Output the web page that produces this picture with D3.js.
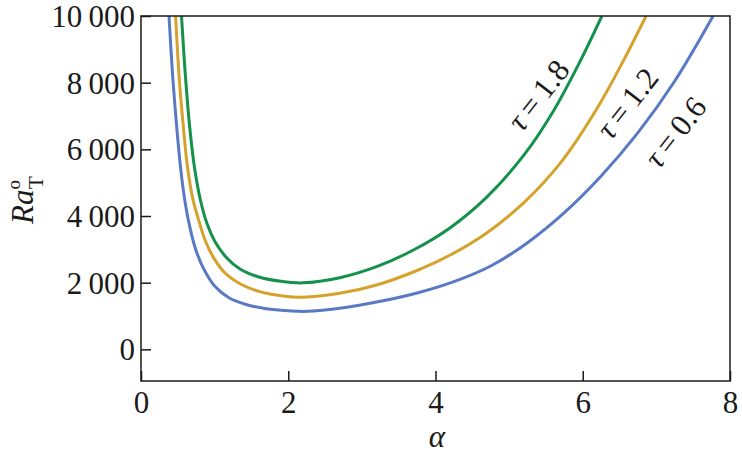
<!DOCTYPE html>
<html><head><meta charset="utf-8">
<script src="https://cdn.jsdelivr.net/npm/d3@7"></script>
<style>body{margin:0;background:#fff}svg{display:block}
svg text{font-family:"Liberation Serif","DejaVu Serif","Noto Serif","FreeSerif","Times New Roman",Times,serif !important;fill:#1a1a1a}</style>
</head><body><svg id="c" width="742" height="454"></svg>
<script>
const xTicks = [0, 2, 4, 6, 8];
const yTicks = [0, 2000, 4000, 6000, 8000, 10000];
const yTickLabels = ["0", "2\u2009000", "4\u2009000", "6\u2009000", "8\u2009000", "10\u2009000"];

const alphaBlue = [0.38, 0.43, 0.48, 0.54, 0.6, 0.67, 0.75, 0.85, 1.0, 1.2, 1.45, 1.7, 2.0, 2.25, 2.75, 3.25, 3.75, 4.25, 4.75, 5.25, 5.75, 6.25, 6.75, 7.25, 7.77];
const raBlue    = [10000, 8200, 6800, 5400, 4400, 3600, 2950, 2420, 1900, 1540, 1330, 1220, 1160, 1140, 1250, 1440, 1690, 2030, 2500, 3200, 4100, 5200, 6500, 8050, 10000];

const alphaOrange = [0.47, 0.52, 0.57, 0.63, 0.7, 0.78, 0.88, 1.0, 1.15, 1.35, 1.6, 1.9, 2.2, 2.7, 3.2, 3.7, 4.2, 4.7, 5.2, 5.7, 6.2, 6.55, 6.86];
const raOrange    = [10000, 8100, 6800, 5500, 4550, 3900, 3220, 2700, 2270, 1960, 1740, 1610, 1565, 1680, 1930, 2320, 2830, 3500, 4400, 5600, 7250, 8650, 10000];

const alphaGreen = [0.55, 0.6, 0.66, 0.73, 0.81, 0.9, 1.0, 1.15, 1.35, 1.6, 1.9, 2.2, 2.7, 3.2, 3.7, 4.2, 4.7, 5.2, 5.6, 5.95, 6.26];
const raGreen    = [10000, 8300, 6700, 5400, 4450, 3750, 3250, 2780, 2400, 2170, 2040, 1995, 2150, 2480, 2980, 3650, 4575, 5825, 7145, 8580, 10000];

const seriesNames = ["\u03c4\u2009=\u20090.6", "\u03c4\u2009=\u20091.2", "\u03c4\u2009=\u20091.8"];
const seriesColors = ["#5a79c4", "#d5a22c", "#14924b"];

const W = 742, H = 454;
const m = {left: 141, right: 12, top: 16, bottom: 73};
const svg = d3.select("#c");
const x = d3.scaleLinear().domain([0, 8]).range([m.left, W - m.right]);
const y = d3.scaleLinear().domain([-950, 10000]).range([H - m.bottom, m.top]);

svg.append("defs").append("clipPath").attr("id", "clip").append("rect")
  .attr("x", x(0)).attr("y", y(10000)).attr("width", x(8) - x(0)).attr("height", y(-950) - y(10000));

const data = [
  d3.zip(alphaBlue, raBlue),
  d3.zip(alphaOrange, raOrange),
  d3.zip(alphaGreen, raGreen)
];
const line = d3.line().x(d => x(d[0])).y(d => y(d[1])).curve(d3.curveCatmullRom.alpha(0.5));
const g = svg.append("g").attr("clip-path", "url(#clip)");
data.forEach((d, i) => {
  g.append("path").attr("d", line(d)).attr("fill", "none")
    .attr("stroke", seriesColors[i]).attr("stroke-width", 3);
});

svg.append("rect").attr("x", x(0)).attr("y", y(10000)).attr("width", x(8) - x(0)).attr("height", y(-950) - y(10000))
  .attr("fill", "none").attr("stroke", "#1a1a1a").attr("stroke-width", 1.5);

const xAxis = d3.axisBottom(x).tickValues(xTicks).tickSize(-10).tickPadding(10).tickFormat(d3.format("d"));
const gx = svg.append("g").attr("transform", `translate(0,${y(-950)})`).call(xAxis);
const yAxis = d3.axisLeft(y).tickValues(yTicks).tickSize(-10).tickPadding(6).tickFormat((d, i) => yTickLabels[i]);
const gy = svg.append("g").attr("transform", `translate(${x(0)},0)`).call(yAxis);
[gx, gy].forEach(a => {
  a.attr("font-family", null);
  a.select(".domain").remove();
  a.selectAll(".tick line").attr("stroke", "#1a1a1a").attr("stroke-width", 1.5);
  a.selectAll(".tick text").attr("font-size", 31).attr("fill", "#1a1a1a");
});
gy.selectAll(".tick text").attr("dy", "0.34em");

svg.append("text").attr("x", 437).attr("y", 447).attr("text-anchor", "middle")
  .attr("font-size", 31).attr("font-style", "italic").text("\u03b1");

const yl = svg.append("text").attr("transform", "translate(33,200) rotate(-90)").attr("text-anchor", "middle").attr("font-size", 31);
yl.append("tspan").attr("font-style", "italic").text("Ra");
yl.append("tspan").attr("font-size", 19).attr("dy", -13).text("o");
yl.append("tspan").attr("font-size", 21).attr("dx", -9).attr("dy", 23).text("T");

const labelPos = [[675, 132], [627, 103], [538, 95]];
labelPos.forEach((p, i) => {
  const t = svg.append("text").attr("transform", `translate(${p[0]},${p[1]}) rotate(-52)`)
    .attr("text-anchor", "middle").attr("dy", "0.35em").attr("font-size", 31);
  t.append("tspan").attr("font-style", "italic").text("\u03c4");
  t.append("tspan").text(seriesNames[i].slice(1));
});
</script></body></html>
